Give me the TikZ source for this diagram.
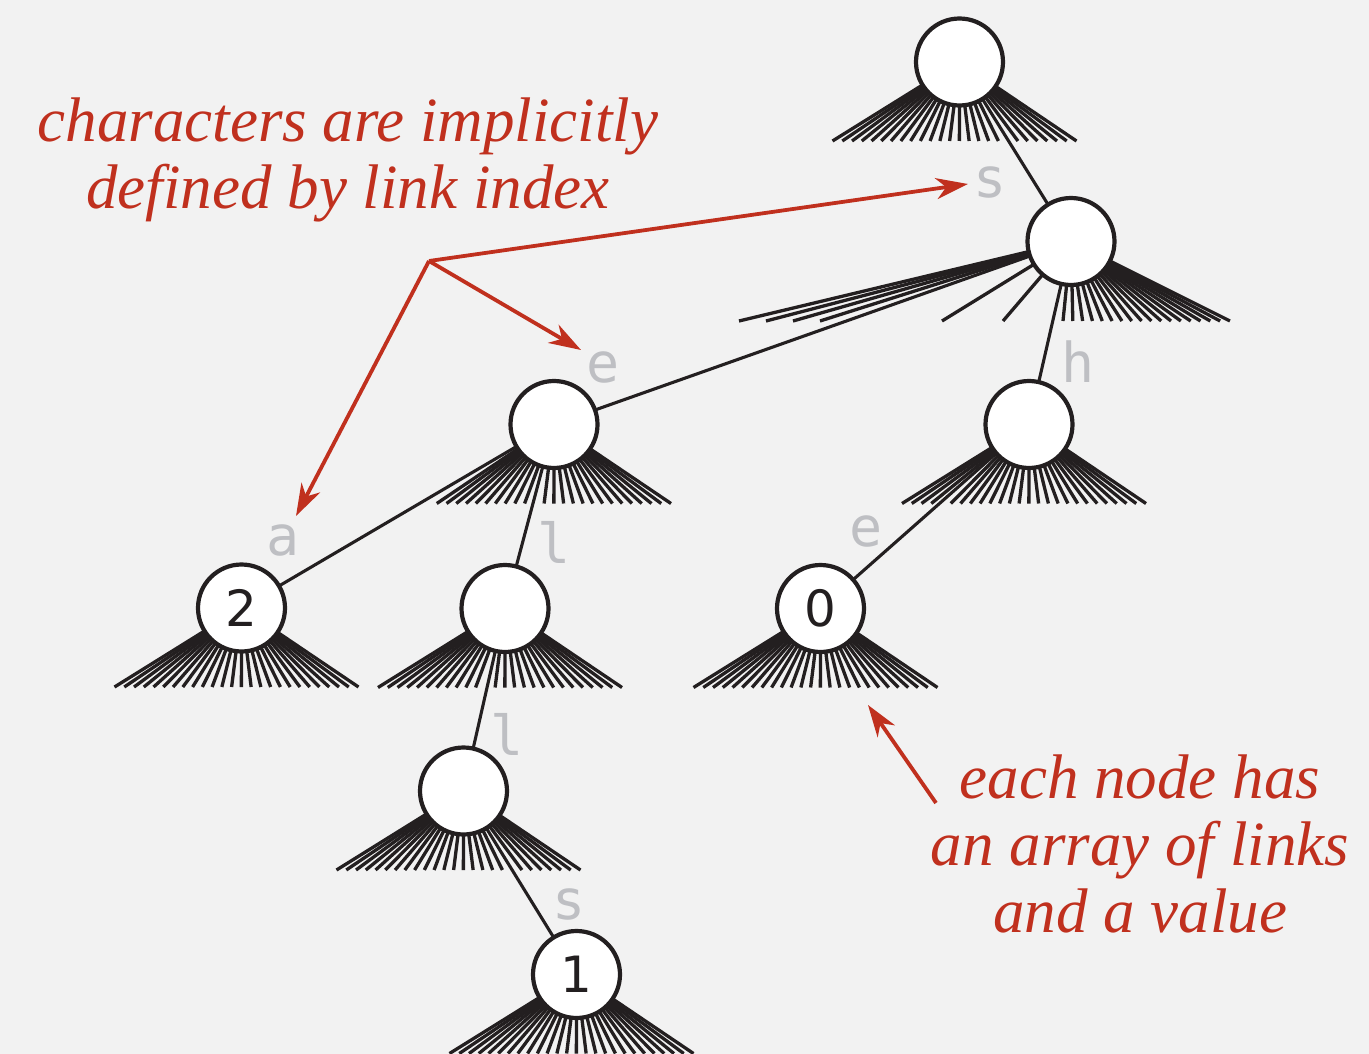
\documentclass[tikz,border=0pt]{standalone}
\usepackage{fontspec}
\usetikzlibrary{arrows.meta,calc}
\newfontfamily\lblfont{DejaVu Sans Mono}
\newfontfamily\numfont{DejaVu Sans}
\newfontfamily\notefont{Liberation Serif Italic}
\definecolor{bgc}{RGB}{242,242,242}
\definecolor{ink}{RGB}{35,31,32}
\definecolor{lblc}{RGB}{190,191,195}
\definecolor{redc}{RGB}{192,48,30}
\pgfdeclarelayer{bglayer}
\pgfdeclarelayer{linklayer}
\pgfsetlayers{bglayer,linklayer,main}
\tikzset{
 trienode/.style={circle, draw=ink, fill=white, line width=4.2pt, minimum size=87pt, inner sep=0pt, font=\numfont\fontsize{50}{50}\selectfont, text=ink},
 stub/.style={draw=ink, line width=3.3pt},
 link/.style={draw=ink, line width=3.1pt},
 lbl/.style={text=lblc, font=\lblfont\fontsize{55}{55}\selectfont, anchor=base, inner sep=0pt},
 note/.style={text=redc, font=\notefont\fontsize{63}{66}\selectfont, anchor=base, inner sep=0pt},
 pointer/.style={draw=redc, line width=3.8pt, -{Stealth[length=32pt,width=21pt,inset=10pt]}},
}
\newcommand\trfan[3]{%
  \foreach \k in {0,...,25}{%
    \ifnum\k=#2\relax\else\ifnum\k=#3\relax\else
      \draw[stub] (#1.center) -- ++({-127+9.76*\k},79);
    \fi\fi}}
\begin{document}
\begin{tikzpicture}[x=1pt,y=-1pt]
\begin{pgfonlayer}{bglayer}
\fill[bgc] (0,0) rectangle (1369,1054);
\end{pgfonlayer}
\useasboundingbox (0,0) rectangle (1369,1054);

% trie nodes
\node[trienode] (root) at (959.5,62) {};
\node[trienode] (ns) at (1071,241.5) {};
\node[trienode] (ne) at (554,424.5) {};
\node[trienode] (nh) at (1029,424.5) {};
\node[trienode] (na) at (241.5,608) {2};
\node[trienode] (nl) at (505,608.5) {};
\node[trienode] (nhe) at (820.5,608.5) {0};
\node[trienode] (nll) at (463.5,791) {};
\node[trienode] (nlls) at (576.5,974.5) {1};

\begin{pgfonlayer}{linklayer}
% child links
\draw[link] (root.center) -- (ns.center);
\draw[link] (ns.center) -- (ne.center);
\draw[link] (ns.center) -- (nh.center);
\draw[link] (ne.center) -- (na.center);
\draw[link] (ne.center) -- (nl.center);
\draw[link] (nh.center) -- (nhe.center);
\draw[link] (nl.center) -- (nll.center);
\draw[link] (nll.center) -- (nlls.center);
% null-link fans
\trfan{root}{18}{-1}
\trfan{ne}{0}{11}
\trfan{nh}{4}{-1}
\trfan{na}{-1}{-1}
\trfan{nl}{11}{-1}
\trfan{nhe}{-1}{-1}
\trfan{nll}{18}{-1}
\trfan{nlls}{-1}{-1}
\foreach \xx in {739,766,793,820,942,1003}{\draw[stub] (ns.center) -- (\xx,321);}
\foreach \k in {0,...,17}{\draw[stub] (ns.center) -- ({1063+9.82*\k},321);}
\end{pgfonlayer}

% link labels
\node[lbl] (ls1) at (990,197) {s};
\node[lbl] (le1) at (603,382) {e};
\node[lbl] (lh) at (1078,382) {h};
\node[lbl] (la) at (283,555) {a};
\node[lbl] (ll1) at (554,563) {l};
\node[lbl] (le2) at (866,546) {e};
\node[lbl] (ll2) at (507,755) {l};
\node[lbl] (ls2) at (569,919) {s};

% annotations
\node[note] (t1) at (348,142) {characters are implicitly};
\node[note] (t2) at (348,208) {defined by link index};
\node[note] (t3) at (1140,798) {each node has};
\node[note] (t4) at (1140,865) {an array of links};
\node[note] (t5) at (1140,932) {and a value};

\coordinate (hub) at (429,261);
\coordinate (tipS) at (968,184);
\coordinate (tipE) at (581,350);
\coordinate (tipA) at (296,516);
\draw[pointer] (hub) -- (tipS);
\draw[pointer] (hub) -- (tipE);
\draw[pointer] (hub) -- (tipA);
\coordinate (tail) at (936,803);
\coordinate (tipN) at (868,705);
\draw[pointer] (tail) -- (tipN);
\end{tikzpicture}
\end{document}
